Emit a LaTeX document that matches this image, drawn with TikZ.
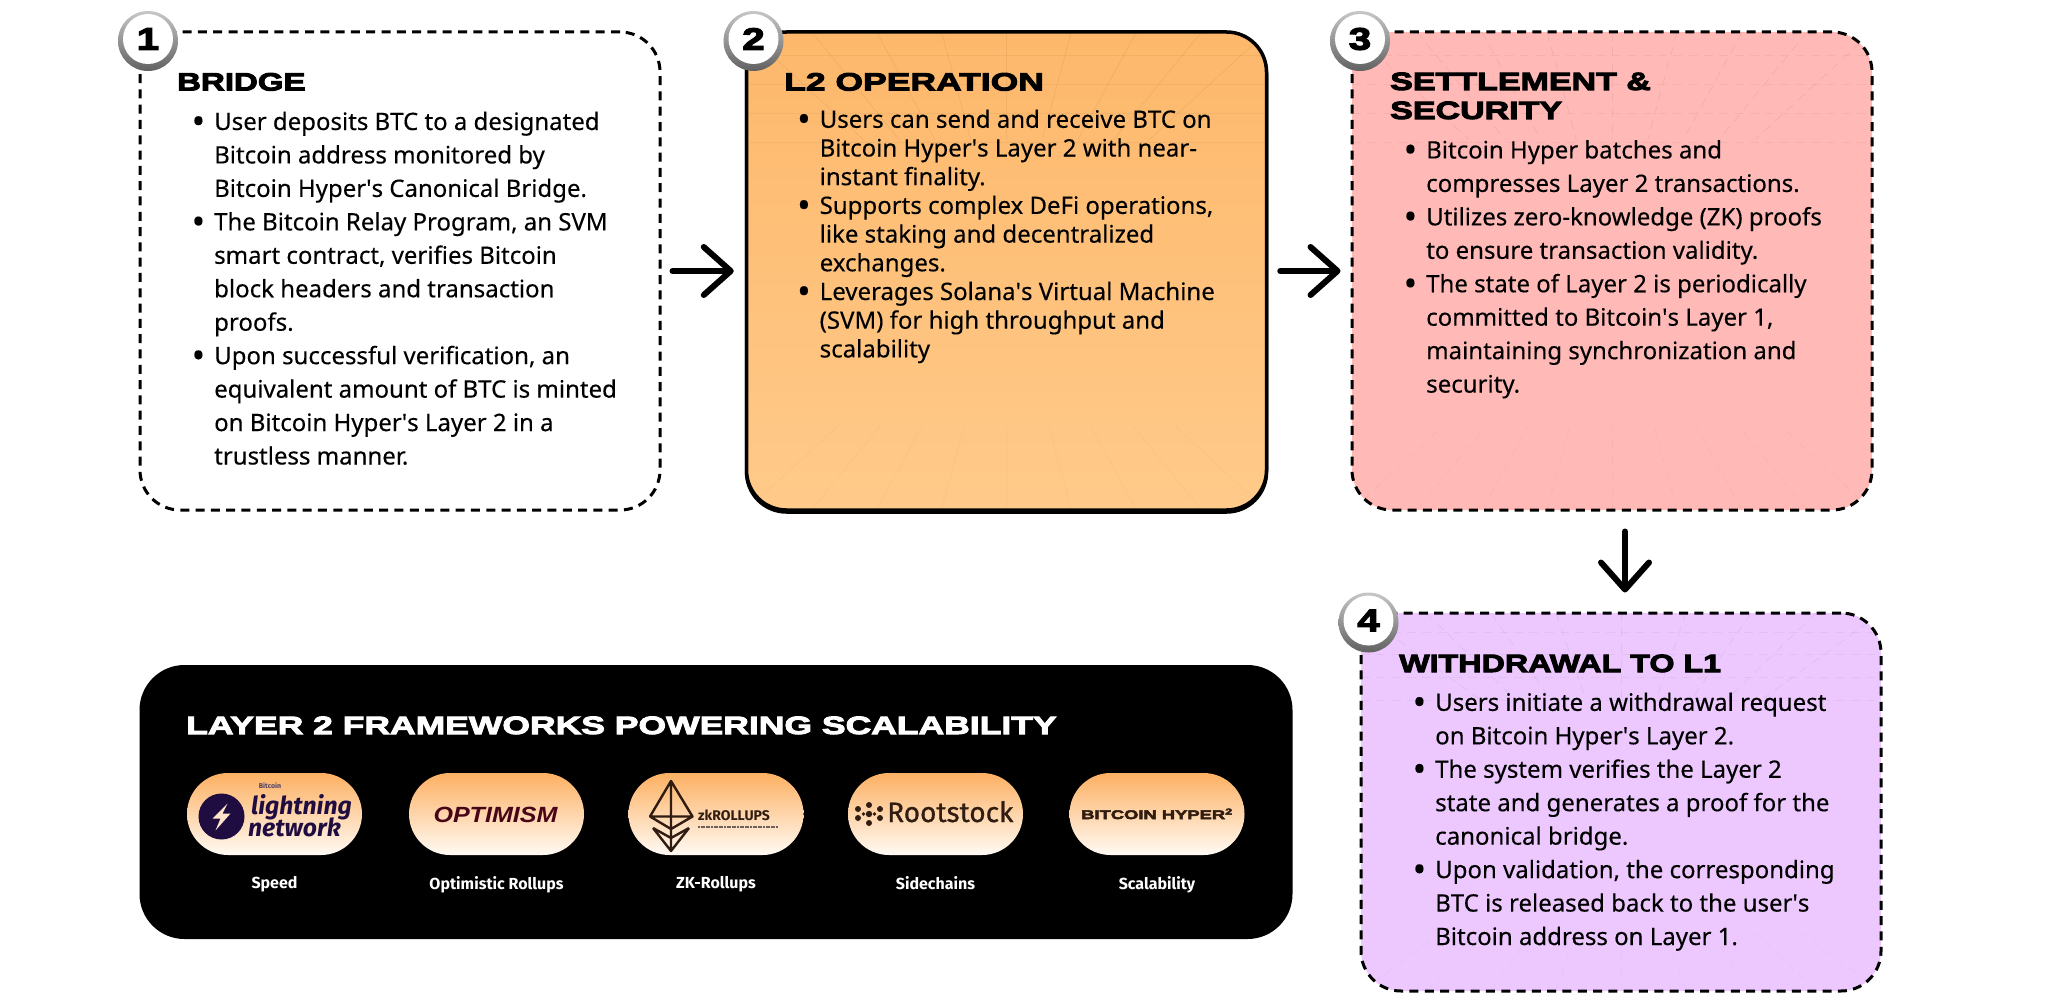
\documentclass[tikz,border=0pt]{standalone}
\usepackage{fontspec}
\usepackage{graphicx}
\setmainfont[FakeBold=.25]{Noto Sans}
\newfontfamily\headfont[BoldFeatures={FakeBold=4}]{Liberation Sans}
\newfontfamily\logofont{Fira Sans}
\usetikzlibrary{arrows.meta,positioning,calc}
\definecolor{panelorange}{RGB}{253,184,107}
\definecolor{paleorange}{RGB}{255,202,138}
\definecolor{panelpink}{RGB}{255,185,182}
\definecolor{panelviolet}{RGB}{236,200,254}
\definecolor{pilltop}{RGB}{253,176,98}
\definecolor{pillbot}{RGB}{255,250,244}
\definecolor{logonavy}{RGB}{31,13,66}
\definecolor{logoink}{RGB}{48,28,16}
\newcommand{\bl}{\leavevmode\llap{\raisebox{-.16em}{\scalebox{1.5}{\textbullet}}\hspace{9pt}}}
\newcommand{\ap}{\textquotesingle}
\newcommand{\roomgrid}{%
    \foreach \t in {0,...,8} {
        \draw[black,opacity=.05,line width=.8pt]
            ($(path picture bounding box.north west)!\t/8!(path picture bounding box.north east)$) -- ($($(path picture bounding box.north west)!\t/8!(path picture bounding box.north east)$)!.45!(path picture bounding box.center)$);
        \draw[black,opacity=.025,line width=.8pt]
            ($(path picture bounding box.south west)!\t/8!(path picture bounding box.south east)$) -- ($($(path picture bounding box.south west)!\t/8!(path picture bounding box.south east)$)!.35!(path picture bounding box.center)$);
    }
    \foreach \t in {.05,.11,.17,.23} {
        \draw[black,opacity=.04,line width=.8pt]
            ($(path picture bounding box.north west)!\t!(path picture bounding box.south west)$) -- ($(path picture bounding box.north east)!\t!(path picture bounding box.south east)$);
    }
}
\tikzset{
    card/.style={rectangle,rounded corners=40pt,minimum width=520pt,minimum height=478pt,inner sep=0pt},
    dashcard/.style={card,draw=black,line width=3pt,dash pattern=on 9pt off 6.3pt},
    badgeball/.style={circle,minimum size=60pt,inner sep=0pt,top color=black!22,bottom color=black!62},
    badgeface/.style={circle,minimum size=50pt,inner sep=0pt,fill=white,font=\headfont\bfseries\fontsize{31}{31}\selectfont\addfontfeature{FakeStretch=1.3}},
    headtext/.style={anchor=base west,inner sep=0pt,align=left,font=\headfont\bfseries\fontsize{25}{29}\selectfont\addfontfeature{FakeStretch=#1}},
    bodytext/.style={anchor=base west,inner sep=0pt,align=left,font=\fontsize{24}{33.45}\selectfont},
    logopill/.style={rectangle,rounded corners=41pt,minimum width=175pt,minimum height=82pt,inner sep=0pt,top color=pilltop,bottom color=pillbot},
    pillcap/.style={inner sep=0pt,text=white,font=\logofont\bfseries\fontsize{16}{17}\selectfont},
    flowarrow/.style={line width=6pt,line cap=round,-{Straight Barb[length=27pt,width=48pt,line width=6pt,round]}},
}
\begin{document}
\begin{tikzpicture}[x=1pt,y=-1pt]
    \useasboundingbox (0,0) rectangle (2048,1003);
    % the four steps
    \node[dashcard] (box1) at (400,271) {};
    \node[card,top color=panelorange,bottom color=paleorange,draw=black,line width=3.5pt,
        preaction={draw=black,line width=3.5pt,transform canvas={yshift=-2pt}},
        path picture={\roomgrid}] (box2) at (1006.5,271) {};
    \node[dashcard,fill=panelpink,path picture={\roomgrid}] (box3) at (1612,271) {};
    \node[dashcard,fill=panelviolet,minimum height=378pt,path picture={\roomgrid}] (box4) at (1621,802) {};
    \draw[flowarrow,shorten <=11pt,shorten >=11pt] (box1) -- (box2);
    \draw[flowarrow,shorten <=12pt,shorten >=10pt] (box2) -- (box3);
    \coordinate (drop) at (1625,0);
    \draw[flowarrow,shorten <=20pt,shorten >=19pt] (box3.south -| drop) -- (box4.north -| drop);
    % number badges
    \foreach \n/\x/\y in {1/148/41,2/753.5/41,3/1360/41,4/1368.5/622.5} {
        \node[badgeball] (ball\n) at (\x,\y) {};
        \node[badgeface] (badge\n) at (\x,\y-2) {\n};
    }
    % headings
    \node[headtext=1.32] (head1) at (177,90.5) {BRIDGE};
    \node[headtext=1.42] (head2) at (784,90.5) {L2 OPERATION};
    \node[headtext=1.36] (head3) at (1390,119) {SETTLEMENT \&\\SECURITY};
    \node[headtext=1.29] (head4) at (1399,672) {WITHDRAWAL TO L1};
    % lists
    \node[bodytext] (body1) at (214,464.5) {\bl User deposits BTC to a designated\\
        Bitcoin address monitored by\\
        Bitcoin Hyper\ap s Canonical Bridge.\\
        \bl The Bitcoin Relay Program, an SVM\\
        smart contract, verifies Bitcoin\\
        block headers and transaction\\
        proofs.\\
        \bl Upon successful verification, an\\
        equivalent amount of BTC is minted\\
        on Bitcoin Hyper\ap s Layer 2 in a\\
        trustless manner.};
    \node[bodytext,font=\fontsize{24}{28.7}\selectfont] (body2) at (819.5,357.4) {\bl Users can send and receive BTC on\\
        Bitcoin Hyper\ap s Layer 2 with near-\\
        instant finality.\\
        \bl Supports complex DeFi operations,\\
        like staking and decentralized\\
        exchanges.\\
        \bl Leverages Solana\ap s Virtual Machine\\
        (SVM) for high throughput and\\
        scalability};
    \node[bodytext] (body3) at (1426,392.6) {\bl Bitcoin Hyper batches and\\
        compresses Layer 2 transactions.\\
        \bl Utilizes zero-knowledge (ZK) proofs\\
        to ensure transaction validity.\\
        \bl The state of Layer 2 is periodically\\
        committed to Bitcoin\ap s Layer 1,\\
        maintaining synchronization and\\
        security.};
    \node[bodytext] (body4) at (1435,945) {\bl Users initiate a withdrawal request\\
        on Bitcoin Hyper\ap s Layer 2.\\
        \bl The system verifies the Layer 2\\
        state and generates a proof for the\\
        canonical bridge.\\
        \bl Upon validation, the corresponding\\
        BTC is released back to the user\ap s\\
        Bitcoin address on Layer 1.};
    % frameworks panel
    \node[rectangle,rounded corners=45pt,fill=black,minimum width=1153pt,minimum height=274pt,inner sep=0pt] (panel) at (716,802) {};
    \node[headtext=1.42,text=white] (paneltitle) at (186,734) {LAYER 2 FRAMEWORKS POWERING SCALABILITY};
    \foreach \n/\x/\cap in {1/274.5/Speed,2/496.5/Optimistic Rollups,3/716/ZK-Rollups,4/935.5/Sidechains,5/1157/Scalability} {
        \node[logopill] (pill\n) at (\x,814) {};
        \node[pillcap,below=21pt of pill\n.south] (cap\n) {\cap};
    }
    % logos
    \node[circle,fill=logonavy,minimum size=46pt,inner sep=0pt] (lnball) at (221.5,816.5) {};
    \fill[pillbot!70!pilltop] (lnball.center)+(6,-13) -- +(-9,2) -- +(-1,2) -- +(-6,14) -- +(9,-3) -- +(1,-3) -- cycle;
    \node[inner sep=0pt,anchor=base west,text=logonavy,font=\logofont\itshape\bfseries\fontsize{24.7}{25}\selectfont] (lnword) at (251,814) {lightning};
    \node[inner sep=0pt,anchor=base west,text=logonavy,font=\logofont\itshape\bfseries\fontsize{24.7}{25}\selectfont] (lnnet) at (248,836) {network};
    \node[inner sep=0pt,text=logonavy!80,font=\logofont\bfseries\fontsize{7}{7}\selectfont] (lnbtc) at (270,785.5) {Bitcoin};
    \node[inner sep=0pt,anchor=base,text=logonavy!60!red!60!black,font=\headfont\bfseries\itshape\fontsize{22}{22}\selectfont\addfontfeature{FakeStretch=1.14}] (optword) at (495.5,822.5) {OPTIMISM};
    \coordinate (ethtop) at (671,781);
    \coordinate (ethl) at (650,816.5);
    \coordinate (ethr) at (692.5,816.5);
    \coordinate (ethmid) at (671,829);
    \coordinate (ethbot) at (671,851);
    \draw[logoink,line width=2.4pt,line join=round] (ethtop) -- (ethl) -- (ethmid) -- (ethr) -- cycle (ethl) -- (ethr) (ethtop) -- (ethmid)
        (653,828) -- (ethbot) -- (689,828) (653,828) -- (671,838) -- (689,828) (ethmid) -- (ethbot);
    \node[inner sep=0pt,anchor=base west,text=logoink,font=\logofont\bfseries\fontsize{14}{14}\selectfont] (zkword) at (698,820) {zkROLLUPS};
    \draw[logoink!70,line width=2pt,dash pattern=on 2pt off .6pt] (698,827) -- (778,827);
    \foreach \dx/\dy/\r in {0/-9/3,0/9/3,-11/-5/3,11/-5/3,-11/4/3,11/4/3,0/0/3.2,-5.5/0/1.8,5.5/0/1.8} {
        \fill[logoink] (869+\dx,814+\dy) circle (\r);
    }
    \node[inner sep=0pt,anchor=base west,text=logoink,font=\logofont\fontsize{28}{28}\selectfont\addfontfeature{FakeBold=.8}] (rskword) at (887,822) {Rootstock};
    \node[inner sep=0pt,anchor=base,text=logoink,font=\headfont\bfseries\fontsize{12.5}{13}\selectfont\addfontfeature{FakeStretch=1.47}] (hyperword) at (1157,819) {BITCOIN HYPER\textsuperscript{2}};
\end{tikzpicture}
\end{document}
